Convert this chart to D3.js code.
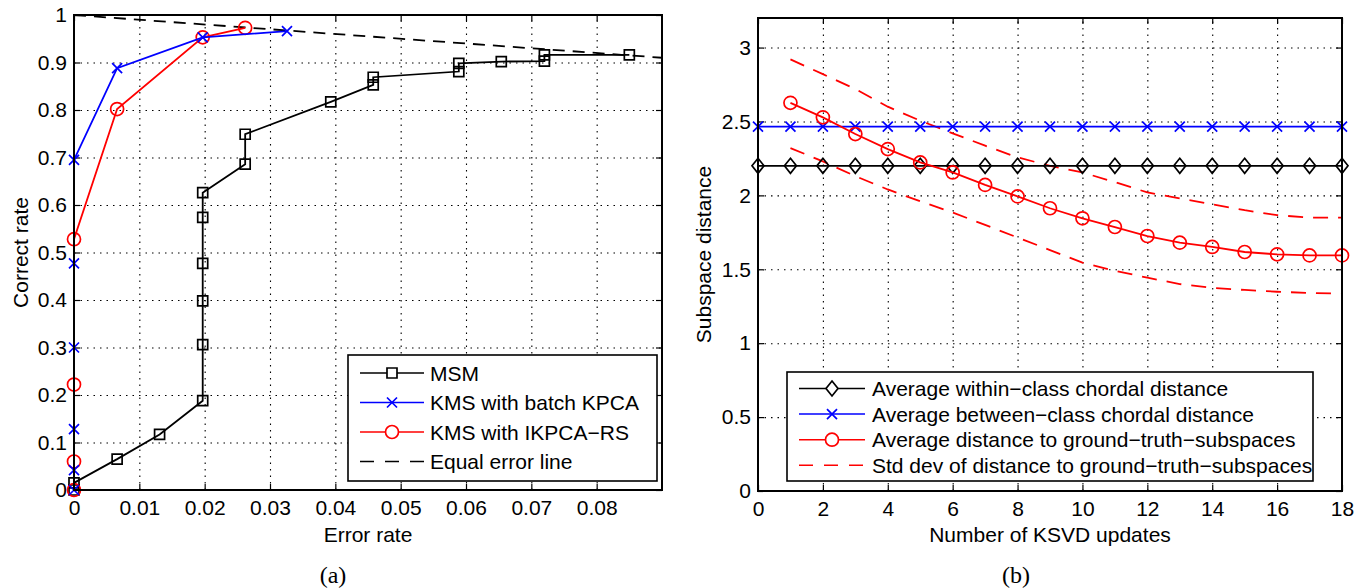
<!DOCTYPE html>
<html>
<head>
<meta charset="utf-8">
<script src="https://cdnjs.cloudflare.com/ajax/libs/d3/7.8.5/d3.min.js"></script>
<style>
    body { margin: 0; background: #fff; }
    text { font-family: "Liberation Sans", Arial, sans-serif; fill: #000; }
    .grid line { stroke: #000; stroke-dasharray: 1.5, 5; stroke-width: 1.1; }
    .grid path { display: none; }
    .ticks path { display: none; }
    .ticks line { stroke: #000; stroke-width: 1.2; }
    .ticks text { font-size: 21px; }
</style>
</head>
<body>
<script>
// ---------- data, panel (a) ----------
var msmErr = [0, 0, 0.0066, 0.0131, 0.0197, 0.0197, 0.0197, 0.0197, 0.0197, 0.0197, 0.0262, 0.0262, 0.0393, 0.0458, 0.0458, 0.0589, 0.0589, 0.0654, 0.0720, 0.0720, 0.0850];
var msmCorr = [0, 0.015, 0.065, 0.117, 0.188, 0.306, 0.398, 0.477, 0.574, 0.626, 0.686, 0.749, 0.817, 0.853, 0.869, 0.881, 0.898, 0.902, 0.903, 0.916, 0.916];
var batchErr = [0, 0, 0, 0, 0, 0, 0.0066, 0.0197, 0.0326];
var batchCorr = [0, 0.042, 0.128, 0.300, 0.477, 0.695, 0.888, 0.953, 0.966];
var ikpcaErr = [0, 0, 0, 0, 0.0066, 0.0197, 0.0262];
var ikpcaCorr = [0, 0.060, 0.222, 0.528, 0.802, 0.953, 0.973];
var eqErr = [0, 0.09];
var eqCorr = [1, 0.91];
var xTicksA = [0, 0.01, 0.02, 0.03, 0.04, 0.05, 0.06, 0.07, 0.08];
var xLabelsA = ["0", "0.01", "0.02", "0.03", "0.04", "0.05", "0.06", "0.07", "0.08"];
var yTicksA = [0, 0.1, 0.2, 0.3, 0.4, 0.5, 0.6, 0.7, 0.8, 0.9, 1];
var yLabelsA = ["0", "0.1", "0.2", "0.3", "0.4", "0.5", "0.6", "0.7", "0.8", "0.9", "1"];
var legendA = ["MSM", "KMS with batch KPCA", "KMS with IKPCA\u2212RS", "Equal error line"];

// ---------- data, panel (b) ----------
var updates = [0, 1, 2, 3, 4, 5, 6, 7, 8, 9, 10, 11, 12, 13, 14, 15, 16, 17, 18];
var withinDist = [2.2, 2.2, 2.2, 2.2, 2.2, 2.2, 2.2, 2.2, 2.2, 2.2, 2.2, 2.2, 2.2, 2.2, 2.2, 2.2, 2.2, 2.2, 2.2];
var betweenDist = [2.465, 2.465, 2.465, 2.465, 2.465, 2.465, 2.465, 2.465, 2.465, 2.465, 2.465, 2.465, 2.465, 2.465, 2.465, 2.465, 2.465, 2.465, 2.465];
var gtUpdates = [1, 2, 3, 4, 5, 6, 7, 8, 9, 10, 11, 12, 13, 14, 15, 16, 17, 18];
var gtDist = [2.626, 2.528, 2.415, 2.313, 2.223, 2.155, 2.071, 1.993, 1.913, 1.845, 1.786, 1.725, 1.680, 1.651, 1.617, 1.601, 1.594, 1.594];
var gtUpper = [2.92, 2.82, 2.72, 2.60, 2.505, 2.42, 2.336, 2.257, 2.20, 2.155, 2.09, 2.02, 1.98, 1.94, 1.90, 1.866, 1.85, 1.85];
var gtLower = [2.32, 2.23, 2.13, 2.04, 1.96, 1.884, 1.80, 1.715, 1.63, 1.545, 1.49, 1.443, 1.40, 1.375, 1.36, 1.348, 1.34, 1.336];
var xTicksB = [0, 2, 4, 6, 8, 10, 12, 14, 16, 18];
var yTicksB = [0, 0.5, 1, 1.5, 2, 2.5, 3];
var yLabelsB = ["0", "0.5", "1", "1.5", "2", "2.5", "3"];
var legendB = ["Average within\u2212class chordal distance", "Average between\u2212class chordal distance",
    "Average distance to ground\u2212truth\u2212subspaces", "Std dev of distance to ground\u2212truth\u2212subspaces"];

var svg = d3.select("body").append("svg")
    .attr("width", 1366)
    .attr("height", 588);

svg.append("rect").attr("width", 1366).attr("height", 588).attr("fill", "#fff");

// marker path helper
function markerPath(type, x, y) {
    if (type == "square") {
        var s = 5;
        return "M" + (x - s) + "," + (y - s) + "h" + 2 * s + "v" + 2 * s + "h" + (-2 * s) + "Z";
    }
    if (type == "diamond") {
        var w = 6, h = 7.5;
        return "M" + x + "," + (y - h) + "L" + (x + w) + "," + y + "L" + x + "," + (y + h) + "L" + (x - w) + "," + y + "Z";
    }
    if (type == "x") {
        var c = 5;
        return "M" + (x - c) + "," + (y - c) + "L" + (x + c) + "," + (y + c) + "M" + (x - c) + "," + (y + c) + "L" + (x + c) + "," + (y - c);
    }
    return "";
}

function drawMarkers(g, type, xs, ys, x, y, color) {
    xs.forEach(function (v, i) {
        if (type == "circle") {
            g.append("circle")
                .attr("cx", x(v)).attr("cy", y(ys[i])).attr("r", 6.5)
                .attr("fill", "none").attr("stroke", color).attr("stroke-width", 1.7);
        } else {
            g.append("path")
                .attr("d", markerPath(type, x(v), y(ys[i])))
                .attr("fill", "none").attr("stroke", color).attr("stroke-width", 1.7);
        }
    });
}

function drawLine(g, xs, ys, x, y, color, dash) {
    var line = d3.line()
        .x(function (d) { return x(d[0]); })
        .y(function (d) { return y(d[1]); });
    g.append("path")
        .datum(xs.map(function (v, i) { return [v, ys[i]]; }))
        .attr("d", line)
        .attr("fill", "none")
        .attr("stroke", color)
        .attr("stroke-width", 1.8)
        .attr("stroke-dasharray", dash || null);
}

// draw frame, grid and ticks for one panel
function drawFrame(g, x, y, w, h, xt, xl, yt, yl, xg, yg, xPad) {
    g.append("g").attr("class", "grid")
        .attr("transform", "translate(0," + h + ")")
        .call(d3.axisBottom(x).tickValues(xg).tickSize(-h).tickFormat(""));
    g.append("g").attr("class", "grid")
        .call(d3.axisLeft(y).tickValues(yg).tickSize(-w).tickFormat(""));

    g.append("g").attr("class", "ticks")
        .attr("transform", "translate(0," + h + ")")
        .call(d3.axisBottom(x).tickValues(xt).tickSize(-6).tickPadding(10)
            .tickFormat(function (d, i) { return xl[i]; }));
    g.append("g").attr("class", "ticks")
        .call(d3.axisTop(x).tickValues(xt).tickSize(-6).tickFormat(""));
    g.append("g").attr("class", "ticks")
        .call(d3.axisLeft(y).tickValues(yt).tickSize(-6).tickPadding(xPad)
            .tickFormat(function (d, i) { return yl[i]; }));
    g.append("g").attr("class", "ticks")
        .attr("transform", "translate(" + w + ",0)")
        .call(d3.axisRight(y).tickValues(yt).tickSize(-6).tickFormat(""));
}

function drawBox(g, w, h) {
    g.append("rect")
        .attr("width", w).attr("height", h)
        .attr("fill", "none").attr("stroke", "#000").attr("stroke-width", 2);
}

//---------- panel (a) ----------
var wA = 588, hA = 475;
var gA = svg.append("g").attr("transform", "translate(74,15)");
var xA = d3.scaleLinear().domain([0, 0.09]).range([0, wA]);
var yA = d3.scaleLinear().domain([0, 1]).range([hA, 0]);

drawFrame(gA, xA, yA, wA, hA, xTicksA, xLabelsA, yTicksA, yLabelsA,
    xTicksA.slice(1), yTicksA.slice(1, -1), 7);

drawLine(gA, eqErr, eqCorr, xA, yA, "#000", "12,8");
drawLine(gA, msmErr, msmCorr, xA, yA, "#000");
drawMarkers(gA, "square", msmErr, msmCorr, xA, yA, "#000");
drawLine(gA, ikpcaErr, ikpcaCorr, xA, yA, "#f00");
drawMarkers(gA, "circle", ikpcaErr, ikpcaCorr, xA, yA, "#f00");
drawLine(gA, batchErr, batchCorr, xA, yA, "#00f");
drawMarkers(gA, "x", batchErr, batchCorr, xA, yA, "#00f");
drawBox(gA, wA, hA);

// legend (a)
var legA = svg.append("g").attr("transform", "translate(348,355)");
legA.append("rect").attr("width", 309).attr("height", 126)
    .attr("fill", "#fff").attr("stroke", "#000").attr("stroke-width", 1.6);
var legAStyle = [
    {color: "#000", marker: "square"},
    {color: "#00f", marker: "x"},
    {color: "#f00", marker: "circle"},
    {color: "#000", marker: null, dash: "14,11"}
];
legendA.forEach(function (t, i) {
    var yy = 18 + i * 29.5;
    legA.append("line")
        .attr("x1", 12).attr("x2", 76).attr("y1", yy).attr("y2", yy)
        .attr("stroke", legAStyle[i].color).attr("stroke-width", 1.5)
        .attr("stroke-dasharray", legAStyle[i].dash || null);
    if (legAStyle[i].marker == "circle") {
        legA.append("circle").attr("cx", 44).attr("cy", yy).attr("r", 6.5)
            .attr("fill", "#fff").attr("stroke", legAStyle[i].color).attr("stroke-width", 1.7);
    } else if (legAStyle[i].marker) {
        legA.append("path").attr("d", markerPath(legAStyle[i].marker, 44, yy))
            .attr("fill", "#fff").attr("stroke", legAStyle[i].color).attr("stroke-width", 1.7);
    }
    legA.append("text").attr("x", 82).attr("y", yy).attr("dy", "0.36em")
        .style("font-size", "21px").text(t);
});

// axis labels (a)
svg.append("text")
    .attr("x", 74 + wA / 2).attr("y", 542)
    .attr("text-anchor", "middle").style("font-size", "21px")
    .text("Error rate");
svg.append("text")
    .attr("transform", "translate(28," + (15 + hA / 2) + ") rotate(-90)")
    .attr("text-anchor", "middle").style("font-size", "21px")
    .text("Correct rate");
svg.append("text")
    .attr("x", 333).attr("y", 583)
    .attr("text-anchor", "middle")
    .style("font-family", "'Liberation Serif', 'Times New Roman', serif").style("font-size", "24px")
    .text("(a)");

//---------- panel (b) ----------
var wB = 584, hB = 473;
var gB = svg.append("g").attr("transform", "translate(758,18)");
var xB = d3.scaleLinear().domain([0, 18]).range([0, wB]);
var yB = d3.scaleLinear().domain([0, 3.2]).range([hB, 0]);

drawFrame(gB, xB, yB, wB, hB, xTicksB, xTicksB.map(String), yTicksB, yLabelsB,
    xTicksB.slice(1, -1), yTicksB.slice(1), 7);

drawLine(gB, gtUpdates, gtUpper, xB, yB, "#f00", "15,10");
drawLine(gB, gtUpdates, gtLower, xB, yB, "#f00", "15,10");
drawLine(gB, updates, withinDist, xB, yB, "#000");
drawMarkers(gB, "diamond", updates, withinDist, xB, yB, "#000");
drawLine(gB, updates, betweenDist, xB, yB, "#00f");
drawMarkers(gB, "x", updates, betweenDist, xB, yB, "#00f");
drawLine(gB, gtUpdates, gtDist, xB, yB, "#f00");
drawMarkers(gB, "circle", gtUpdates, gtDist, xB, yB, "#f00");
drawBox(gB, wB, hB);

// legend (b)
var legB = svg.append("g").attr("transform", "translate(787,372)");
legB.append("rect").attr("width", 526).attr("height", 109)
    .attr("fill", "#fff").attr("stroke", "#000").attr("stroke-width", 1.6);
var legBStyle = [
    {color: "#000", marker: "diamond"},
    {color: "#00f", marker: "x"},
    {color: "#f00", marker: "circle"},
    {color: "#f00", marker: null, dash: "14,11"}
];
legendB.forEach(function (t, i) {
    var yy = 16.5 + i * 25.6;
    legB.append("line")
        .attr("x1", 12).attr("x2", 78).attr("y1", yy).attr("y2", yy)
        .attr("stroke", legBStyle[i].color).attr("stroke-width", 1.5)
        .attr("stroke-dasharray", legBStyle[i].dash || null);
    if (legBStyle[i].marker == "circle") {
        legB.append("circle").attr("cx", 45).attr("cy", yy).attr("r", 6.5)
            .attr("fill", "#fff").attr("stroke", legBStyle[i].color).attr("stroke-width", 1.7);
    } else if (legBStyle[i].marker) {
        legB.append("path").attr("d", markerPath(legBStyle[i].marker, 45, yy))
            .attr("fill", "#fff").attr("stroke", legBStyle[i].color).attr("stroke-width", 1.7);
    }
    legB.append("text").attr("x", 85).attr("y", yy).attr("dy", "0.36em")
        .style("font-size", "21px").text(t);
});

// axis labels (b)
svg.append("text")
    .attr("x", 758 + wB / 2).attr("y", 542)
    .attr("text-anchor", "middle").style("font-size", "21px")
    .text("Number of KSVD updates");
svg.append("text")
    .attr("transform", "translate(711," + (18 + hB / 2) + ") rotate(-90)")
    .attr("text-anchor", "middle").style("font-size", "21px")
    .text("Subspace distance");
svg.append("text")
    .attr("x", 1016).attr("y", 583)
    .attr("text-anchor", "middle")
    .style("font-family", "'Liberation Serif', 'Times New Roman', serif").style("font-size", "24px")
    .text("(b)");
</script>
</body>
</html>
